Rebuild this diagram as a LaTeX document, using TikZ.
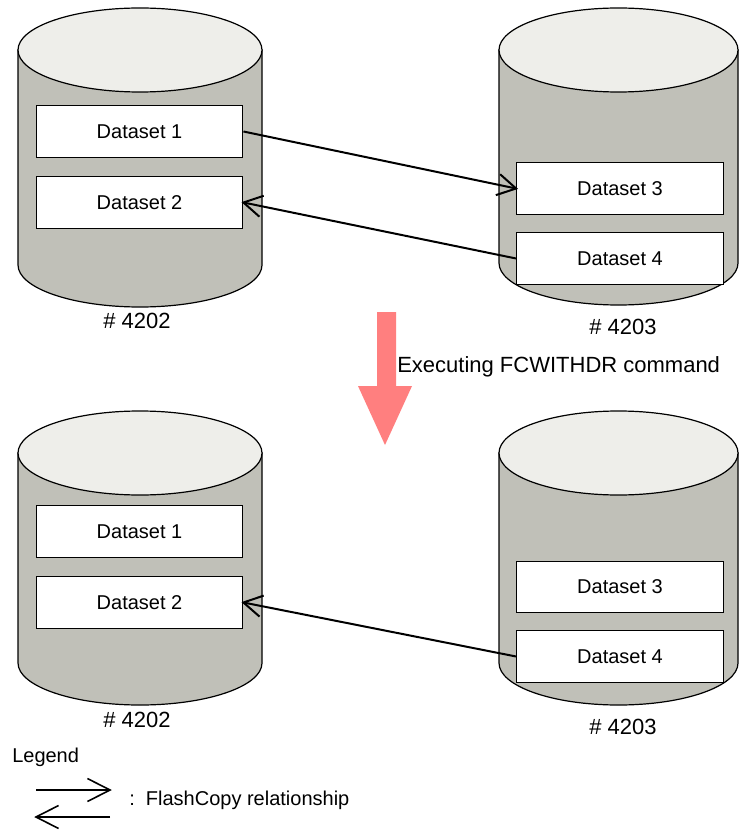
\documentclass[tikz,border=0pt]{standalone}
\usepackage{fontspec}
\setmainfont{Liberation Sans}
\usetikzlibrary{calc}
\definecolor{cylbodycol}{RGB}{192,192,184}
\definecolor{cyltopcol}{RGB}{238,238,234}
\definecolor{pinkarrow}{RGB}{255,127,127}
\newcommand{\drawcyl}[4]{%
  \pgfmathsetmacro{\rxx}{(#2-#1)/2*0.75}%
  \draw[cylline, fill=cylbodycol] (#1,-#3) -- (#1,-#4) arc[start angle=180, end angle=360, x radius=\rxx pt, y radius=31.5pt] -- (#2,-#3) -- cycle;
  \draw[cylline, fill=cyltopcol] ({(#1+#2)/2},-#3) ellipse[x radius=\rxx pt, y radius=31.5pt];
}
% connector with open V head: #1 source, #2 target, #3 barb length, #4 half angle, #5 style
\newcommand{\vconnect}[5]{%
  \draw[#5] (#1) -- (#2);
  \draw[#5, line join=miter] ($(#2)!#3!#4:(#1)$) -- (#2) -- ($(#2)!#3!-#4:(#1)$);
}
\tikzset{
  cylline/.style={line width=0.9pt, draw=black},
  dsbox/.style={draw=black, fill=white, line width=0.9pt, inner sep=0pt,
    minimum width=155pt, minimum height=38.5pt, font=\fontsize{15}{18}\selectfont},
  fcline/.style={line width=1.5pt, draw=black},
  legline/.style={line width=1.2pt, draw=black},
  lbl/.style={font=\fontsize{16.5}{19}\selectfont, inner sep=0pt},
  txt/.style={font=\fontsize{15}{18}\selectfont, inner sep=0pt, anchor=west}
}
\begin{document}
\begin{tikzpicture}[x=0.75pt, y=0.75pt]
\useasboundingbox (0,0) rectangle (739,-830);
\fill[white] (0,0) rectangle (739,-830);

% cylinders
\drawcyl{18}{262}{50}{265}
\drawcyl{499}{738}{50}{263}
\drawcyl{18}{262}{453}{663}
\drawcyl{499}{738}{453}{663}

% datasets top
\node[dsbox] (a1) at (139.5,-131.5) {Dataset 1};
\node[dsbox] (a2) at (139.5,-202.5) {Dataset 2};
\node[dsbox] (a3) at (620,-188.5) {Dataset 3};
\node[dsbox] (a4) at (620,-258.5) {Dataset 4};
% datasets bottom
\node[dsbox] (b1) at (139.5,-531.5) {Dataset 1};
\node[dsbox] (b2) at (139.5,-602.5) {Dataset 2};
\node[dsbox] (b3) at (620,-587) {Dataset 3};
\node[dsbox] (b4) at (620,-656.5) {Dataset 4};

% relationships
\vconnect{a1.east}{a3.west}{16pt}{30}{fcline}
\vconnect{a4.west}{a2.east}{16pt}{30}{fcline}
\vconnect{b4.west}{b2.east}{16pt}{30}{fcline}

% labels
\node[lbl] (l1) at (137,-321) {\# 4202};
\node[lbl] (l2) at (623,-327) {\# 4203};
\node[lbl] (l3) at (137,-720) {\# 4202};
\node[lbl] (l4) at (623,-727) {\# 4203};

% big arrow
\fill[pinkarrow] (377,-312) -- (396,-312) -- (396,-386) -- (412,-386) -- (385,-445) -- (358,-386) -- (377,-386) -- cycle;
\node[txt, font=\fontsize{16.5}{19}\selectfont] (ex) at (397,-367) {Executing FCWITHDR command};

% legend
\node[txt] (leg) at (12,-757) {Legend};
\coordinate (r1) at (36,-790);
\coordinate (r2) at (110,-790);
\coordinate (s1) at (110,-817);
\coordinate (s2) at (36,-817);
\vconnect{r1}{r2}{19pt}{27}{legline}
\vconnect{s1}{s2}{19pt}{27}{legline}
\node[txt] (fcl) at (129,-800) {:\ \ FlashCopy relationship};
\end{tikzpicture}
\end{document}
